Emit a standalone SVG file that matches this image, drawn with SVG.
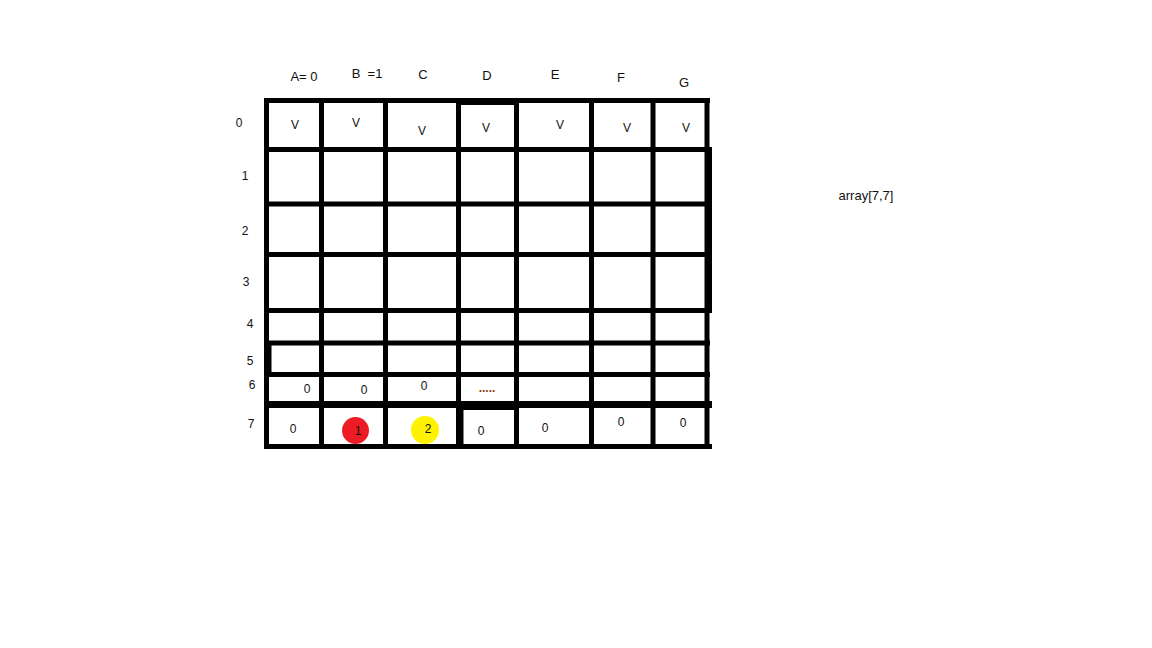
<svg xmlns="http://www.w3.org/2000/svg" width="1152" height="648" viewBox="0 0 1152 648">
<style>
.g line{stroke:#000;stroke-width:5;}
.t{font-family:"Liberation Sans",Arial,sans-serif;font-size:12px;fill:#111;text-anchor:middle;}
.h{font-size:13px;}
.dots{fill:#8b3a0a;font-weight:bold;}
</style>
<rect width="1152" height="648" fill="#fff"/>
<g id="grid" class="g">
<line x1="264" y1="100.5" x2="710" y2="100.5"/>
<line x1="264" y1="149.5" x2="712" y2="149.5"/>
<line x1="264" y1="204" x2="712" y2="204"/>
<line x1="264" y1="254.5" x2="712" y2="254.5"/>
<line x1="264" y1="310.5" x2="712" y2="310.5"/>
<line x1="264" y1="343" x2="710" y2="343"/>
<line x1="264" y1="374.5" x2="710" y2="374.5"/>
<line x1="264" y1="404.5" x2="712" y2="404.5" style="stroke-width:7"/>
<line x1="264" y1="446.5" x2="712" y2="446.5"/>
<line x1="266.5" y1="98" x2="266.5" y2="449"/>
<line x1="321.5" y1="98" x2="321.5" y2="449"/>
<line x1="385.5" y1="98" x2="385.5" y2="449"/>
<line x1="458.5" y1="98" x2="458.5" y2="449"/>
<line x1="516.5" y1="98" x2="516.5" y2="449"/>
<line x1="591.5" y1="98" x2="591.5" y2="449"/>
<line x1="653" y1="98" x2="653" y2="449"/>
<line x1="707" y1="98" x2="707" y2="449"/>
<line x1="709.5" y1="148" x2="709.5" y2="312"/>
<line x1="269" y1="343" x2="269" y2="375"/>
<line x1="459" y1="103" x2="516" y2="103" style="stroke-width:4"/>
<line x1="461.5" y1="404" x2="461.5" y2="447" style="stroke-width:4"/>
<line x1="459" y1="408" x2="516" y2="408" style="stroke-width:4"/>
</g>
<g id="col-headers" class="t h">
<text x="304" y="81">A= 0</text>
<text x="367" y="78">B&#160; =1</text>
<text x="423" y="79">C</text>
<text x="487" y="80">D</text>
<text x="555" y="79">E</text>
<text x="621" y="82">F</text>
<text x="684" y="87">G</text>
</g>
<g id="row-headers" class="t">
<text x="239" y="127">0</text>
<text x="245" y="180">1</text>
<text x="245" y="235">2</text>
<text x="246" y="286">3</text>
<text x="250" y="328">4</text>
<text x="250" y="365">5</text>
<text x="252" y="389">6</text>
<text x="251" y="428">7</text>
</g>
<g id="row0" class="t">
<text x="295" y="129">V</text>
<text x="356" y="127">V</text>
<text x="422" y="135">V</text>
<text x="486" y="132">V</text>
<text x="560" y="129">V</text>
<text x="627" y="132">V</text>
<text x="686" y="132">V</text>
</g>
<g id="row6" class="t">
<text x="307" y="393">0</text>
<text x="364" y="394">0</text>
<text x="424" y="390">0</text>
<text x="487" y="392" class="t dots">.....</text>
</g>
<g id="row7">
<circle id="red-marker" cx="355.5" cy="430.5" r="13.5" fill="#ed1c24"/>
<circle id="yellow-marker" cx="425" cy="430" r="14" fill="#fff200"/>
<g class="t">
<text x="293" y="433">0</text>
<text x="358" y="435">1</text>
<text x="428" y="433">2</text>
<text x="481" y="435">0</text>
<text x="545" y="432">0</text>
<text x="621" y="426">0</text>
<text x="683" y="427">0</text>
</g>
</g>
<g id="label">
<text class="t h" x="866" y="200">array[7,7]</text>
</g>
</svg>
